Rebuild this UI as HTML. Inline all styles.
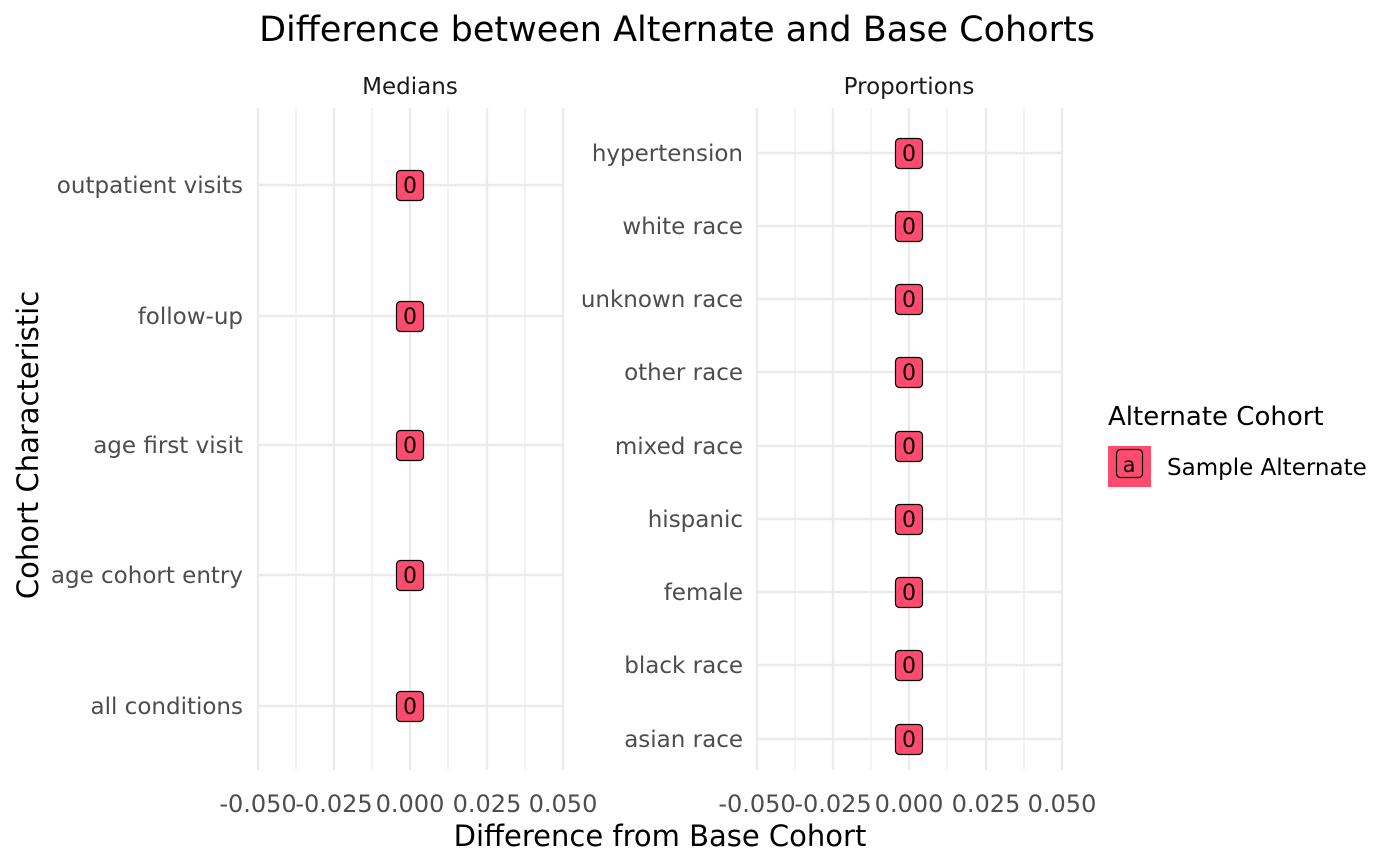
<!DOCTYPE html>
<html><head><style>body{margin:0;background:#fff}svg{display:block}text{font-family:"DejaVu Sans","Liberation Sans",sans-serif}</style></head><body>
<svg width="1400" height="866" xmlns="http://www.w3.org/2000/svg">
<rect width="1400" height="866" fill="#fff"/>
<text x="677" y="41" font-size="35" text-anchor="middle" fill="#000">Difference between Alternate and Base Cohorts</text>
<text x="410" y="94" font-size="23" text-anchor="middle" fill="#1a1a1a">Medians</text>
<text x="909" y="94" font-size="23" text-anchor="middle" fill="#1a1a1a">Proportions</text>
<g stroke="#ebebeb" stroke-width="1.2">
<line x1="296" y1="108" x2="296" y2="770"/><line x1="372" y1="108" x2="372" y2="770"/><line x1="448" y1="108" x2="448" y2="770"/><line x1="525" y1="108" x2="525" y2="770"/>
<line x1="795" y1="108" x2="795" y2="770"/><line x1="871" y1="108" x2="871" y2="770"/><line x1="947" y1="108" x2="947" y2="770"/><line x1="1024" y1="108" x2="1024" y2="770"/>
</g>
<g stroke="#ebebeb" stroke-width="2.4">
<line x1="258" y1="108" x2="258" y2="770"/><line x1="334" y1="108" x2="334" y2="770"/><line x1="410" y1="108" x2="410" y2="770"/><line x1="487" y1="108" x2="487" y2="770"/><line x1="563" y1="108" x2="563" y2="770"/>
<line x1="757" y1="108" x2="757" y2="770"/><line x1="833" y1="108" x2="833" y2="770"/><line x1="909" y1="108" x2="909" y2="770"/><line x1="986" y1="108" x2="986" y2="770"/><line x1="1062" y1="108" x2="1062" y2="770"/>
<line x1="258" y1="185" x2="563" y2="185"/><line x1="258" y1="316" x2="563" y2="316"/><line x1="258" y1="445" x2="563" y2="445"/><line x1="258" y1="575" x2="563" y2="575"/><line x1="258" y1="706" x2="563" y2="706"/>
<line x1="757" y1="153" x2="1062" y2="153"/><line x1="757" y1="226" x2="1062" y2="226"/><line x1="757" y1="299" x2="1062" y2="299"/><line x1="757" y1="372" x2="1062" y2="372"/><line x1="757" y1="446" x2="1062" y2="446"/><line x1="757" y1="519" x2="1062" y2="519"/><line x1="757" y1="592" x2="1062" y2="592"/><line x1="757" y1="665" x2="1062" y2="665"/><line x1="757" y1="739" x2="1062" y2="739"/>
</g>
<g font-size="23" fill="#4d4d4d" text-anchor="end">
<text x="243" y="193">outpatient visits</text><text x="243" y="324">follow-up</text><text x="243" y="453">age first visit</text><text x="243" y="583">age cohort entry</text><text x="243" y="714">all conditions</text>
<text x="743" y="161">hypertension</text><text x="743" y="234">white race</text><text x="743" y="307">unknown race</text><text x="743" y="380">other race</text><text x="743" y="454">mixed race</text><text x="743" y="527">hispanic</text><text x="743" y="600">female</text><text x="743" y="673">black race</text><text x="743" y="747">asian race</text>
</g>
<g font-size="24" fill="#4d4d4d" text-anchor="middle">
<text x="258" y="812">-0.050</text><text x="334" y="812">-0.025</text><text x="410" y="812">0.000</text><text x="487" y="812">0.025</text><text x="563" y="812">0.050</text>
<text x="757" y="812">-0.050</text><text x="833" y="812">-0.025</text><text x="909" y="812">0.000</text><text x="986" y="812">0.025</text><text x="1062" y="812">0.050</text>
</g>
<text x="660" y="846" font-size="29" text-anchor="middle" fill="#000">Difference from Base Cohort</text>
<text transform="translate(38,445) rotate(-90)" font-size="29" text-anchor="middle" fill="#000">Cohort Characteristic</text>
<g fill="#FF4C6E" stroke="#000" stroke-width="1.2">
<rect x="396.5" y="170.5" width="27" height="30" rx="4"/><rect x="396.5" y="301.5" width="27" height="30" rx="4"/><rect x="396.5" y="430.5" width="27" height="30" rx="4"/><rect x="396.5" y="560.5" width="27" height="30" rx="4"/><rect x="396.5" y="691.5" width="27" height="30" rx="4"/>
<rect x="895.5" y="138.5" width="27" height="30" rx="4"/><rect x="895.5" y="211.5" width="27" height="30" rx="4"/><rect x="895.5" y="284.5" width="27" height="30" rx="4"/><rect x="895.5" y="357.5" width="27" height="30" rx="4"/><rect x="895.5" y="431.5" width="27" height="30" rx="4"/><rect x="895.5" y="504.5" width="27" height="30" rx="4"/><rect x="895.5" y="577.5" width="27" height="30" rx="4"/><rect x="895.5" y="650.5" width="27" height="30" rx="4"/><rect x="895.5" y="724.5" width="27" height="30" rx="4"/>
</g>
<g font-size="22" fill="#000" text-anchor="middle">
<text x="410" y="193">0</text><text x="410" y="324">0</text><text x="410" y="453">0</text><text x="410" y="583">0</text><text x="410" y="714">0</text>
<text x="909" y="161">0</text><text x="909" y="234">0</text><text x="909" y="307">0</text><text x="909" y="380">0</text><text x="909" y="454">0</text><text x="909" y="527">0</text><text x="909" y="600">0</text><text x="909" y="673">0</text><text x="909" y="747">0</text>
</g>
<text x="1108" y="425" font-size="26" fill="#000">Alternate Cohort</text>
<rect x="1108" y="446" width="43" height="41" fill="#FF4C6E"/>
<rect x="1116.5" y="449.5" width="26" height="28" rx="4" fill="#FF4C6E" stroke="#000" stroke-width="1.2"/>
<text x="1129" y="472" font-size="21" text-anchor="middle" fill="#000">a</text>
<text x="1167" y="475" font-size="23" fill="#000">Sample Alternate</text>
</svg>
</body></html>
